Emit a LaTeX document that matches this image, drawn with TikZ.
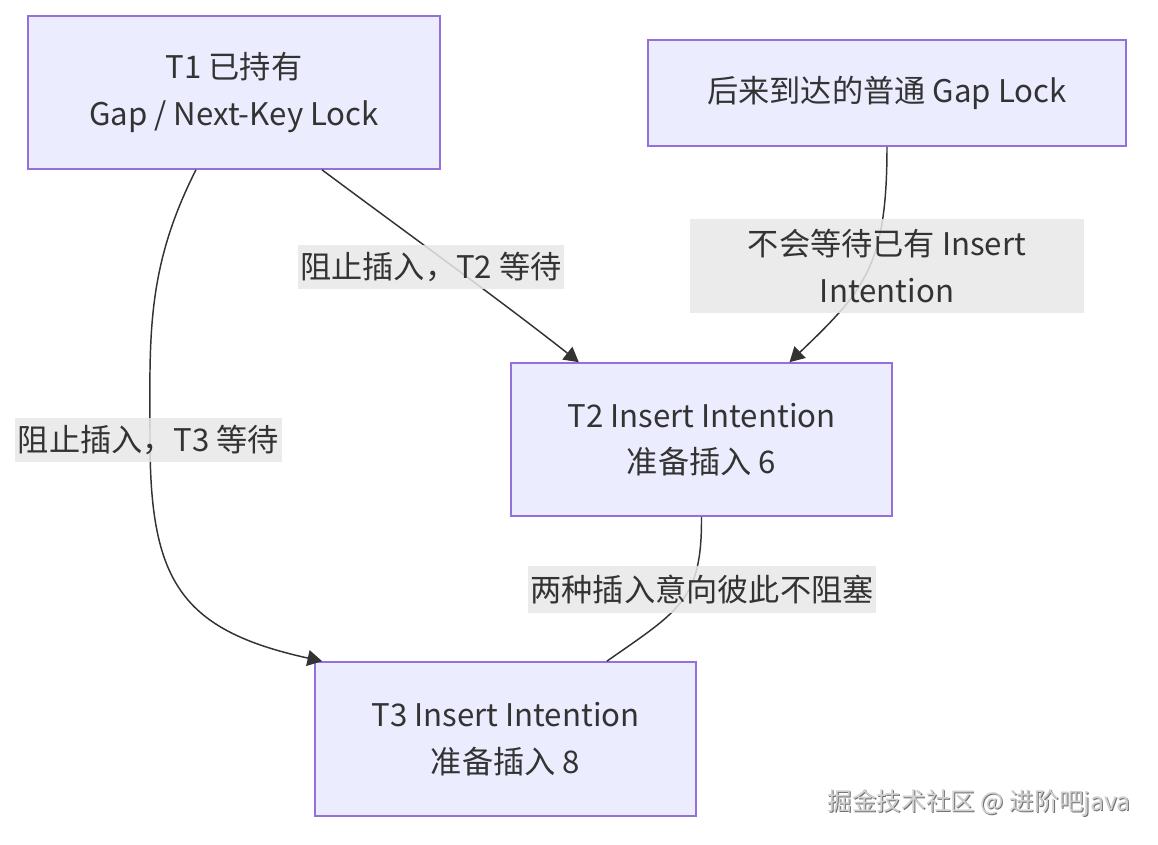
\documentclass[tikz,border=0pt]{standalone}
\usepackage{fontspec}
\setmainfont{Noto Sans CJK SC}
\usetikzlibrary{arrows.meta}
\definecolor{nodefill}{HTML}{ECECFF}
\definecolor{nodeborder}{HTML}{9370DB}
\definecolor{txt}{HTML}{333333}
\definecolor{lblbg}{HTML}{E8E8E8}
\definecolor{wmshadow}{HTML}{707070}
\definecolor{wmfill}{HTML}{D0D0D0}
\begin{document}
\begin{tikzpicture}[x=0.75pt,y=-0.75pt,
  box/.style={draw=nodeborder, fill=nodefill, line width=1.2pt, text=txt, align=center,
    font=\fontsize{23.4}{35}\selectfont, inner sep=0pt},
  lbl/.style={fill=lblbg, fill opacity=0.85, text opacity=1, text=txt, align=center,
    font=\fontsize{23.4}{35}\selectfont, inner sep=0pt},
  edge/.style={draw=txt, line width=1.1pt},
  arr/.style={edge, -{Triangle[length=11pt,width=12pt]}},
  wm/.style={font=\fontsize{18.5}{20}\selectfont, inner sep=0pt}
]
\path[fill=white, use as bounding box] (0,0) rectangle (1158,844);

% boxes
\node[box, minimum width=309pt, minimum height=114.75pt] (t1) at (234,92.5) {T1 已持有\\Gap / Next-Key Lock};
\node[box, minimum width=358.5pt, minimum height=79.5pt] (gap) at (887,93) {后来到达的普通 Gap Lock};
\node[box, minimum width=285.75pt, minimum height=114.75pt] (t2) at (701.5,439.5) {T2 Insert Intention\\准备插入 6};
\node[box, minimum width=285.75pt, minimum height=115.5pt] (t3) at (505.5,739) {T3 Insert Intention\\准备插入 8};

% connectors
\draw[arr] ([xshift=66pt]t1.south) .. controls (400,228) and (500,300) .. ([xshift=-92pt]t2.north);
\draw[arr] (gap.south) .. controls (887,265) and (865,290) .. ([xshift=66pt]t2.north);
\draw[arr] ([xshift=-28.5pt]t1.south) .. controls (145,270) and (150,340) .. (150,440)
  .. controls (150,580) and (180,630) .. ([xshift=-137.5pt]t3.north);
\draw[edge] (t2.south) .. controls (702,600) and (680,610) .. ([xshift=76pt]t3.north);

% labels
\node[lbl, minimum width=199.5pt, minimum height=33pt] (l1) at (431,267) {阻止插入，T2 等待};
\node[lbl, minimum width=295.5pt, minimum height=70.5pt] (l2) at (887,266) {不会等待已有 Insert\\Intention};
\node[lbl, minimum width=200.25pt, minimum height=33pt] (l3) at (148.5,440) {阻止插入，T3 等待};
\node[lbl, minimum width=261pt, minimum height=35.25pt] (l4) at (702,589.5) {两种插入意向彼此不阻塞};

% watermark
\node[wm, text=white] at (978,802) {掘金技术社区 @ 进阶吧java};
\node[wm, text=wmshadow] at (980,804) {掘金技术社区 @ 进阶吧java};
\node[wm, text=wmfill] (wmk) at (979,803) {掘金技术社区 @ 进阶吧java};
\end{tikzpicture}
\end{document}
